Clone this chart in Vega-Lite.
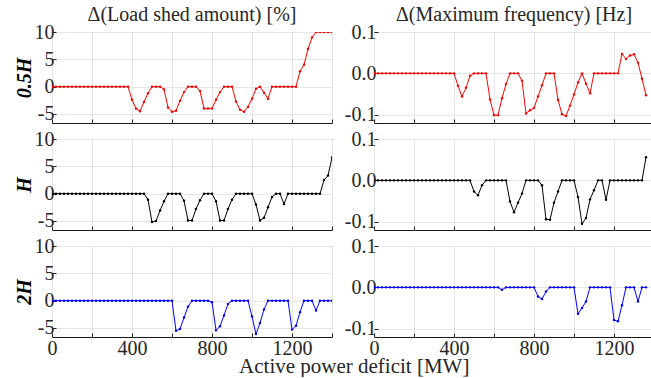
{
  "$schema": "https://vega.github.io/schema/vega-lite/v6.json",
  "padding": {"left": 13, "top": 4, "right": 0, "bottom": 0},
  "background": "white",
  "datasets": {
    "L05": [
      {"x":0,"y":0},{"x":20,"y":0},{"x":40,"y":0},{"x":60,"y":0},{"x":80,"y":0},{"x":100,"y":0},{"x":120,"y":0},{"x":140,"y":0},{"x":160,"y":0},{"x":180,"y":0},
      {"x":200,"y":0},{"x":220,"y":0},{"x":240,"y":0},{"x":260,"y":0},{"x":280,"y":0},{"x":300,"y":0},{"x":320,"y":0},{"x":340,"y":0},{"x":360,"y":0},{"x":380,"y":0},
      {"x":400,"y":-2.4},{"x":420,"y":-4.0},{"x":440,"y":-4.5},{"x":460,"y":-2.8},{"x":480,"y":-1.2},{"x":500,"y":0},{"x":520,"y":0},{"x":540,"y":0},{"x":560,"y":-0.5},{"x":580,"y":-3.8},
      {"x":600,"y":-4.6},{"x":620,"y":-4.4},{"x":640,"y":-2.6},{"x":660,"y":-1.0},{"x":680,"y":0},{"x":700,"y":0},{"x":720,"y":0},{"x":740,"y":-0.8},{"x":760,"y":-4.0},{"x":780,"y":-4.0},
      {"x":800,"y":-4.0},{"x":820,"y":-2.4},{"x":840,"y":-1.0},{"x":860,"y":0},{"x":880,"y":0},{"x":900,"y":0},{"x":920,"y":-2.7},{"x":940,"y":-4.2},{"x":960,"y":-4.6},{"x":980,"y":-3.7},
      {"x":1000,"y":-2.2},{"x":1020,"y":-0.4},{"x":1040,"y":0},{"x":1060,"y":-1.1},{"x":1080,"y":-2.2},{"x":1100,"y":0},{"x":1120,"y":0},{"x":1140,"y":0},{"x":1160,"y":0},{"x":1180,"y":0},
      {"x":1200,"y":0},{"x":1220,"y":0},{"x":1240,"y":2.8},{"x":1260,"y":4.0},{"x":1280,"y":6.9},{"x":1300,"y":9.0},{"x":1320,"y":10},{"x":1340,"y":10},{"x":1360,"y":10},{"x":1380,"y":10},{"x":1400,"y":10}
    ],
    "L1": [
      {"x":0,"y":0},{"x":20,"y":0},{"x":40,"y":0},{"x":60,"y":0},{"x":80,"y":0},{"x":100,"y":0},{"x":120,"y":0},{"x":140,"y":0},{"x":160,"y":0},{"x":180,"y":0},
      {"x":200,"y":0},{"x":220,"y":0},{"x":240,"y":0},{"x":260,"y":0},{"x":280,"y":0},{"x":300,"y":0},{"x":320,"y":0},{"x":340,"y":0},{"x":360,"y":0},{"x":380,"y":0},
      {"x":400,"y":0},{"x":420,"y":0},{"x":440,"y":0},{"x":460,"y":0},{"x":480,"y":-1.1},{"x":500,"y":-5.2},{"x":520,"y":-5.0},{"x":540,"y":-3.1},{"x":560,"y":-1.4},{"x":580,"y":0},
      {"x":600,"y":0},{"x":620,"y":0},{"x":640,"y":0},{"x":660,"y":-1.3},{"x":680,"y":-4.9},{"x":700,"y":-4.9},{"x":720,"y":-2.8},{"x":740,"y":-1.2},{"x":760,"y":0},{"x":780,"y":0},
      {"x":800,"y":0},{"x":820,"y":-1.4},{"x":840,"y":-4.9},{"x":860,"y":-4.9},{"x":880,"y":-2.8},{"x":900,"y":-1.1},{"x":920,"y":0},{"x":940,"y":0},{"x":960,"y":0},{"x":980,"y":0},
      {"x":1000,"y":0},{"x":1020,"y":-2.0},{"x":1040,"y":-4.9},{"x":1060,"y":-4.4},{"x":1080,"y":-2.5},{"x":1100,"y":-0.6},{"x":1120,"y":0},{"x":1140,"y":0},{"x":1160,"y":-1.9},{"x":1180,"y":0},
      {"x":1200,"y":0},{"x":1220,"y":0},{"x":1240,"y":0},{"x":1260,"y":0},{"x":1280,"y":0},{"x":1300,"y":0},{"x":1320,"y":0},{"x":1340,"y":0},{"x":1360,"y":2.5},{"x":1380,"y":3.3},{"x":1400,"y":6.6}
    ],
    "L2": [
      {"x":0,"y":0},{"x":20,"y":0},{"x":40,"y":0},{"x":60,"y":0},{"x":80,"y":0},{"x":100,"y":0},{"x":120,"y":0},{"x":140,"y":0},{"x":160,"y":0},{"x":180,"y":0},
      {"x":200,"y":0},{"x":220,"y":0},{"x":240,"y":0},{"x":260,"y":0},{"x":280,"y":0},{"x":300,"y":0},{"x":320,"y":0},{"x":340,"y":0},{"x":360,"y":0},{"x":380,"y":0},
      {"x":400,"y":0},{"x":420,"y":0},{"x":440,"y":0},{"x":460,"y":0},{"x":480,"y":0},{"x":500,"y":0},{"x":520,"y":0},{"x":540,"y":0},{"x":560,"y":0},{"x":580,"y":0},
      {"x":600,"y":0},{"x":620,"y":-5.5},{"x":640,"y":-5.2},{"x":660,"y":-3.1},{"x":680,"y":-1.1},{"x":700,"y":0},{"x":720,"y":0},{"x":740,"y":0},{"x":760,"y":0},{"x":780,"y":0},
      {"x":800,"y":-0.3},{"x":820,"y":-5.4},{"x":840,"y":-4.7},{"x":860,"y":-2.7},{"x":880,"y":-0.6},{"x":900,"y":0},{"x":920,"y":0},{"x":940,"y":0},{"x":960,"y":0},{"x":980,"y":0},
      {"x":1000,"y":-2.9},{"x":1020,"y":-6.1},{"x":1040,"y":-4.1},{"x":1060,"y":-1.6},{"x":1080,"y":0},{"x":1100,"y":0},{"x":1120,"y":0},{"x":1140,"y":0},{"x":1160,"y":0},{"x":1180,"y":0},
      {"x":1200,"y":-5.3},{"x":1220,"y":-4.6},{"x":1240,"y":-2.1},{"x":1260,"y":0},{"x":1280,"y":0},{"x":1300,"y":0},{"x":1320,"y":-1.8},{"x":1340,"y":0},{"x":1360,"y":0},{"x":1380,"y":0},{"x":1400,"y":0}
    ],
    "F05": [
      {"x":0,"y":0},{"x":20,"y":0},{"x":40,"y":0},{"x":60,"y":0},{"x":80,"y":0},{"x":100,"y":0},{"x":120,"y":0},{"x":140,"y":0},{"x":160,"y":0},{"x":180,"y":0},
      {"x":200,"y":0},{"x":220,"y":0},{"x":240,"y":0},{"x":260,"y":0},{"x":280,"y":0},{"x":300,"y":0},{"x":320,"y":0},{"x":340,"y":0},{"x":360,"y":0},{"x":380,"y":0},
      {"x":400,"y":0},{"x":420,"y":-0.03},{"x":440,"y":-0.056},{"x":460,"y":-0.035},{"x":480,"y":-0.006},{"x":500,"y":0},{"x":520,"y":0},{"x":540,"y":0},{"x":560,"y":0},{"x":580,"y":-0.063},
      {"x":600,"y":-0.101},{"x":620,"y":-0.101},{"x":640,"y":-0.06},{"x":660,"y":-0.026},{"x":680,"y":0},{"x":700,"y":0},{"x":720,"y":0},{"x":740,"y":-0.018},{"x":760,"y":-0.097},{"x":780,"y":-0.089},
      {"x":800,"y":-0.084},{"x":820,"y":-0.056},{"x":840,"y":-0.029},{"x":860,"y":0},{"x":880,"y":0},{"x":900,"y":0},{"x":920,"y":-0.064},{"x":940,"y":-0.099},{"x":960,"y":-0.103},{"x":980,"y":-0.078},
      {"x":1000,"y":-0.051},{"x":1020,"y":-0.022},{"x":1040,"y":0},{"x":1060,"y":-0.025},{"x":1080,"y":-0.048},{"x":1100,"y":0},{"x":1120,"y":0},{"x":1140,"y":0},{"x":1160,"y":0},{"x":1180,"y":0},
      {"x":1200,"y":0},{"x":1220,"y":0},{"x":1240,"y":0.047},{"x":1260,"y":0.035},{"x":1280,"y":0.043},{"x":1300,"y":0.046},{"x":1320,"y":0.026},{"x":1340,"y":-0.013},{"x":1360,"y":-0.053}
    ],
    "F1": [
      {"x":0,"y":0},{"x":20,"y":0},{"x":40,"y":0},{"x":60,"y":0},{"x":80,"y":0},{"x":100,"y":0},{"x":120,"y":0},{"x":140,"y":0},{"x":160,"y":0},{"x":180,"y":0},
      {"x":200,"y":0},{"x":220,"y":0},{"x":240,"y":0},{"x":260,"y":0},{"x":280,"y":0},{"x":300,"y":0},{"x":320,"y":0},{"x":340,"y":0},{"x":360,"y":0},{"x":380,"y":0},
      {"x":400,"y":0},{"x":420,"y":0},{"x":440,"y":0},{"x":460,"y":0},{"x":480,"y":0},{"x":500,"y":-0.027},{"x":520,"y":-0.036},{"x":540,"y":-0.012},{"x":560,"y":0},{"x":580,"y":0},
      {"x":600,"y":0},{"x":620,"y":0},{"x":640,"y":0},{"x":660,"y":0},{"x":680,"y":-0.051},{"x":700,"y":-0.077},{"x":720,"y":-0.054},{"x":740,"y":-0.032},{"x":760,"y":0},{"x":780,"y":0},
      {"x":800,"y":0},{"x":820,"y":0},{"x":840,"y":-0.012},{"x":860,"y":-0.094},{"x":880,"y":-0.095},{"x":900,"y":-0.054},{"x":920,"y":-0.027},{"x":940,"y":0},{"x":960,"y":0},{"x":980,"y":0},
      {"x":1000,"y":0},{"x":1020,"y":-0.04},{"x":1040,"y":-0.105},{"x":1060,"y":-0.091},{"x":1080,"y":-0.046},{"x":1100,"y":-0.024},{"x":1120,"y":0},{"x":1140,"y":0},{"x":1160,"y":-0.047},{"x":1180,"y":0},
      {"x":1200,"y":0},{"x":1220,"y":0},{"x":1240,"y":0},{"x":1260,"y":0},{"x":1280,"y":0},{"x":1300,"y":0},{"x":1320,"y":0},{"x":1340,"y":0},{"x":1360,"y":0.056}
    ],
    "F2": [
      {"x":0,"y":0},{"x":20,"y":0},{"x":40,"y":0},{"x":60,"y":0},{"x":80,"y":0},{"x":100,"y":0},{"x":120,"y":0},{"x":140,"y":0},{"x":160,"y":0},{"x":180,"y":0},
      {"x":200,"y":0},{"x":220,"y":0},{"x":240,"y":0},{"x":260,"y":0},{"x":280,"y":0},{"x":300,"y":0},{"x":320,"y":0},{"x":340,"y":0},{"x":360,"y":0},{"x":380,"y":0},
      {"x":400,"y":0},{"x":420,"y":0},{"x":440,"y":0},{"x":460,"y":0},{"x":480,"y":0},{"x":500,"y":0},{"x":520,"y":0},{"x":540,"y":0},{"x":560,"y":0},{"x":580,"y":0},
      {"x":600,"y":0},{"x":620,"y":0},{"x":640,"y":-0.006},{"x":660,"y":0},{"x":680,"y":0},{"x":700,"y":0},{"x":720,"y":0},{"x":740,"y":0},{"x":760,"y":0},{"x":780,"y":0},
      {"x":800,"y":0},{"x":820,"y":-0.022},{"x":840,"y":-0.028},{"x":860,"y":-0.01},{"x":880,"y":0},{"x":900,"y":0},{"x":920,"y":0},{"x":940,"y":0},{"x":960,"y":0},{"x":980,"y":0},
      {"x":1000,"y":0},{"x":1020,"y":-0.064},{"x":1040,"y":-0.05},{"x":1060,"y":-0.034},{"x":1080,"y":0},{"x":1100,"y":0},{"x":1120,"y":0},{"x":1140,"y":0},{"x":1160,"y":0},{"x":1180,"y":0},
      {"x":1200,"y":-0.079},{"x":1220,"y":-0.082},{"x":1240,"y":-0.043},{"x":1260,"y":0},{"x":1280,"y":0},{"x":1300,"y":0},{"x":1320,"y":-0.034},{"x":1340,"y":0},{"x":1360,"y":0}
    ]
  },
  "config": {
    "font": "Liberation Serif",
    "view": {"stroke": "#1a1a1a", "strokeWidth": 1},
    "axis": {
      "labelFont": "Liberation Serif", "labelFontSize": 20, "labelColor": "#262626",
      "titleFont": "Liberation Serif", "titleColor": "#000000",
      "domain": false, "grid": true, "gridColor": "#e6e6e6", "gridWidth": 1,
      "tickColor": "#262626", "tickSize": -4, "labelPadding": 2, "labelFlush": false, "labelOverlap": false
    },
    "title": {"font": "Liberation Serif", "fontSize": 20, "fontWeight": "normal", "color": "#262626"}
  },
  "title": {"text": "Active power deficit [MW]", "orient": "bottom", "anchor": "middle", "font": "Liberation Serif", "fontSize": 21, "offset": -3, "dx": 20},
  "spacing": 2,
  "vconcat": [
    {"spacing": 10, "hconcat": [
      {"width": 280, "height": 91, "data": {"name": "L05"},
       "title": {"text": "Δ(Load shed amount) [%]", "offset": -3},
       "mark": {"type": "line", "color": "#ff0000", "strokeWidth": 1, "clip": true, "point": {"filled": true, "size": 6, "color": "#ff0000"}},
       "encoding": {
         "x": {"field": "x", "type": "quantitative", "scale": {"domain": [0, 1400], "nice": false}, "axis": {"values": [0,200,400,600,800,1000,1200,1400], "labels": false, "title": null}},
         "y": {"field": "y", "type": "quantitative", "scale": {"domain": [-6.65, 10], "nice": false, "zero": false}, "axis": {"values": [-5,0,5,10], "labelExpr": "datum.value < 0 ? '-' + format(abs(datum.value), 'd') : format(datum.value, 'd')", "title": "0.5H", "titleFontSize": 20, "titleFontWeight": "bold", "titleFontStyle": "italic", "titlePadding": 0}}
       }},
      {"width": 280, "height": 91, "data": {"name": "F05"},
       "title": {"text": "Δ(Maximum frequency) [Hz]", "offset": -3},
       "mark": {"type": "line", "color": "#ff0000", "strokeWidth": 1, "clip": true, "point": {"filled": true, "size": 6, "color": "#ff0000"}},
       "encoding": {
         "x": {"field": "x", "type": "quantitative", "scale": {"domain": [0, 1400], "nice": false}, "axis": {"values": [0,200,400,600,800,1000,1200,1400], "labels": false, "title": null}},
         "y": {"field": "y", "type": "quantitative", "scale": {"domain": [-0.12, 0.1], "nice": false, "zero": false}, "axis": {"values": [-0.1,0,0.1], "labelExpr": "datum.value < 0 ? '-' + format(abs(datum.value), '.1f') : format(datum.value, '.1f')", "title": null}}
       }}
    ]},
    {"spacing": 10, "hconcat": [
      {"width": 280, "height": 91, "data": {"name": "L1"},
       "mark": {"type": "line", "color": "#000000", "strokeWidth": 1, "clip": true, "point": {"filled": true, "size": 6, "color": "#000000"}},
       "encoding": {
         "x": {"field": "x", "type": "quantitative", "scale": {"domain": [0, 1400], "nice": false}, "axis": {"values": [0,200,400,600,800,1000,1200,1400], "labels": false, "title": null}},
         "y": {"field": "y", "type": "quantitative", "scale": {"domain": [-6.65, 10], "nice": false, "zero": false}, "axis": {"values": [-5,0,5,10], "labelExpr": "datum.value < 0 ? '-' + format(abs(datum.value), 'd') : format(datum.value, 'd')", "title": "H", "titleFontSize": 20, "titleFontWeight": "bold", "titleFontStyle": "italic", "titlePadding": 0}}
       }},
      {"width": 280, "height": 91, "data": {"name": "F1"},
       "mark": {"type": "line", "color": "#000000", "strokeWidth": 1, "clip": true, "point": {"filled": true, "size": 6, "color": "#000000"}},
       "encoding": {
         "x": {"field": "x", "type": "quantitative", "scale": {"domain": [0, 1400], "nice": false}, "axis": {"values": [0,200,400,600,800,1000,1200,1400], "labels": false, "title": null}},
         "y": {"field": "y", "type": "quantitative", "scale": {"domain": [-0.12, 0.1], "nice": false, "zero": false}, "axis": {"values": [-0.1,0,0.1], "labelExpr": "datum.value < 0 ? '-' + format(abs(datum.value), '.1f') : format(datum.value, '.1f')", "title": null}}
       }}
    ]},
    {"spacing": 10, "hconcat": [
      {"width": 280, "height": 91, "data": {"name": "L2"},
       "mark": {"type": "line", "color": "#0000ff", "strokeWidth": 1, "clip": true, "point": {"filled": true, "size": 6, "color": "#0000ff"}},
       "encoding": {
         "x": {"field": "x", "type": "quantitative", "scale": {"domain": [0, 1400], "nice": false}, "axis": {"values": [0,200,400,600,800,1000,1200,1400], "labelPadding": 5, "labelExpr": "datum.value % 400 == 0 ? format(datum.value, 'd') : ''", "title": null}},
         "y": {"field": "y", "type": "quantitative", "scale": {"domain": [-6.65, 10], "nice": false, "zero": false}, "axis": {"values": [-5,0,5,10], "labelExpr": "datum.value < 0 ? '-' + format(abs(datum.value), 'd') : format(datum.value, 'd')", "title": "2H", "titleFontSize": 20, "titleFontWeight": "bold", "titleFontStyle": "italic", "titlePadding": 0}}
       }},
      {"width": 280, "height": 91, "data": {"name": "F2"},
       "mark": {"type": "line", "color": "#0000ff", "strokeWidth": 1, "clip": true, "point": {"filled": true, "size": 6, "color": "#0000ff"}},
       "encoding": {
         "x": {"field": "x", "type": "quantitative", "scale": {"domain": [0, 1400], "nice": false}, "axis": {"values": [0,200,400,600,800,1000,1200,1400], "labelPadding": 5, "labelExpr": "datum.value % 400 == 0 ? format(datum.value, 'd') : ''", "title": null}},
         "y": {"field": "y", "type": "quantitative", "scale": {"domain": [-0.12, 0.1], "nice": false, "zero": false}, "axis": {"values": [-0.1,0,0.1], "labelExpr": "datum.value < 0 ? '-' + format(abs(datum.value), '.1f') : format(datum.value, '.1f')", "title": null}}
       }}
    ]}
  ]
}
